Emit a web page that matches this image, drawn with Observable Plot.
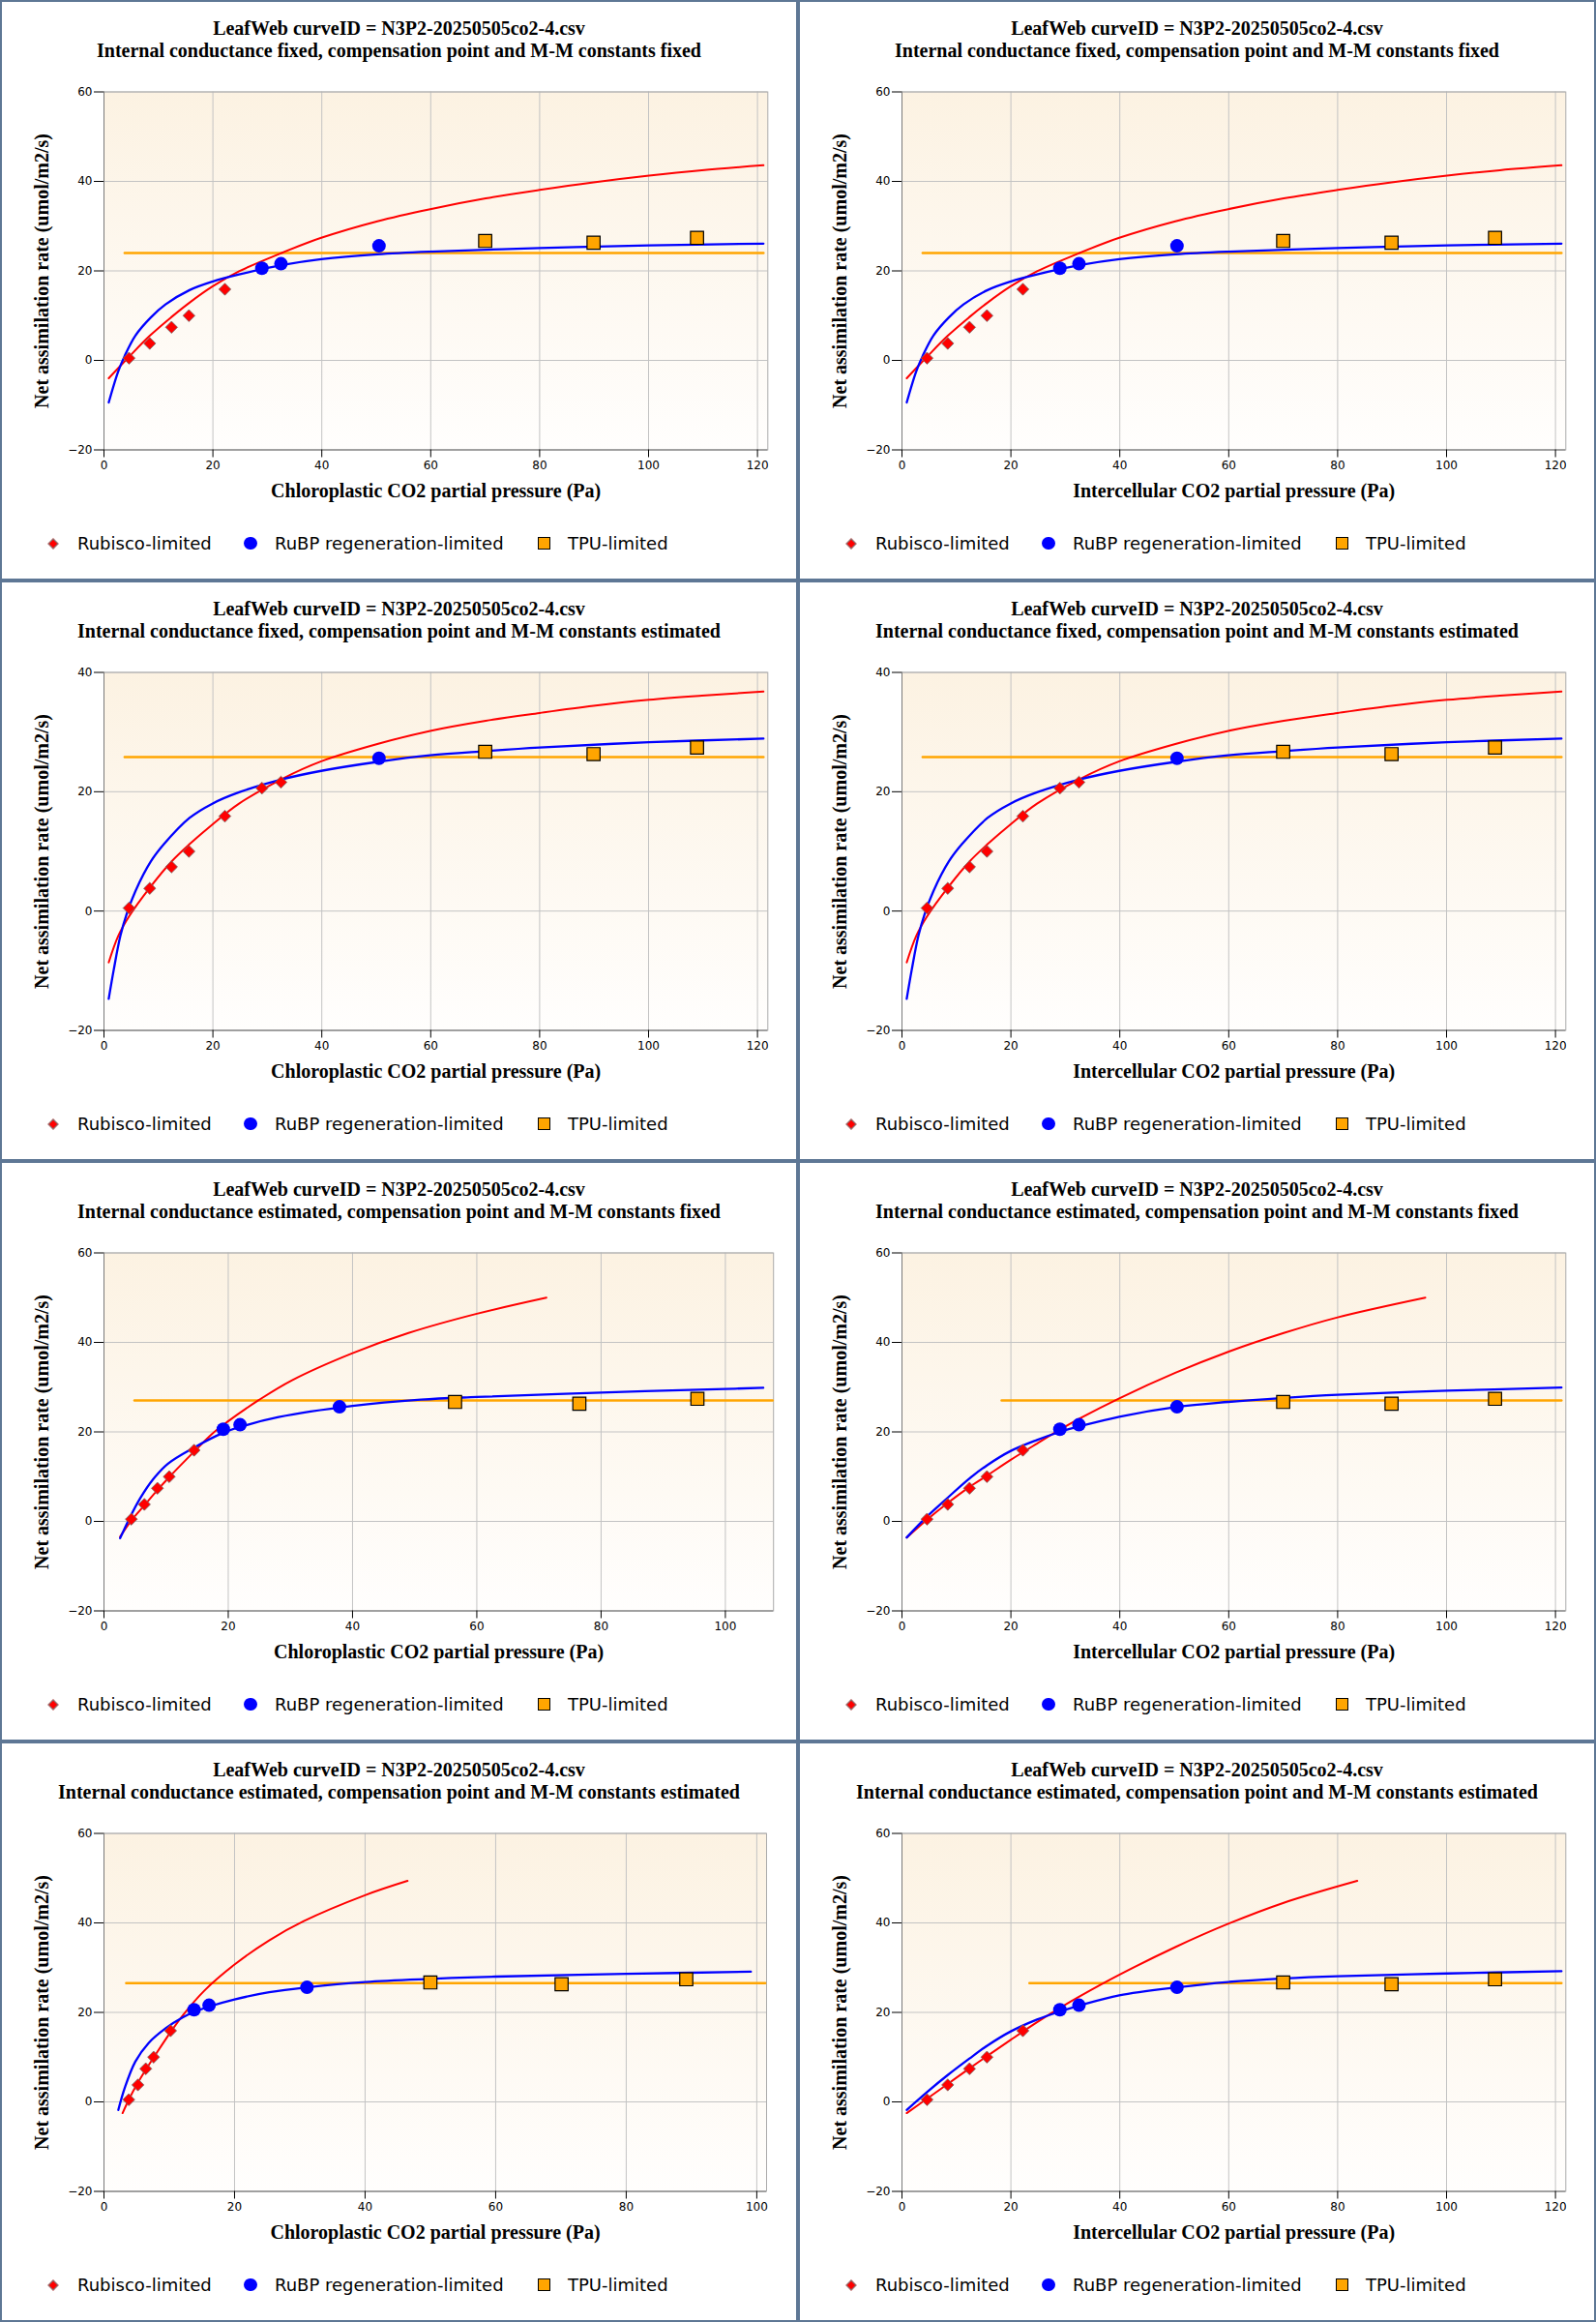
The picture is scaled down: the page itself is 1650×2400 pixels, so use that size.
<!DOCTYPE html>
<html><head><meta charset="utf-8">
<script src="https://cdn.jsdelivr.net/npm/d3@7"></script>
<script src="https://cdn.jsdelivr.net/npm/@observablehq/plot@0.6"></script>
<style>
html,body{margin:0;padding:0;background:#fff;}
#page{width:1650px;height:2400px;box-sizing:border-box;padding:2px;background:#5e7795;display:grid;grid-template-columns:821px 821px;grid-template-rows:repeat(4,596px);gap:4px;}
.panel{position:relative;background:#fff;overflow:hidden;}
.t{position:absolute;left:0;width:100%;text-align:center;font-weight:bold;font-size:20px;font-family:"Liberation Serif","Times New Roman",serif;line-height:20px;white-space:nowrap;color:#000;}
.plot{position:absolute;left:0;top:60px;}
.lg{position:absolute;top:549.8px;font-size:18px;font-family:"DejaVu Sans",sans-serif;line-height:20px;white-space:nowrap;color:#000;}
.sym{position:absolute;box-sizing:border-box;}
</style></head><body><div id="page"></div>
<script>
// ---- text ----
const titleLine1 = "LeafWeb curveID = N3P2-20250505co2-4.csv";
const titleLines2 = [
  "Internal conductance fixed, compensation point and M-M constants fixed",
  "Internal conductance fixed, compensation point and M-M constants estimated",
  "Internal conductance estimated, compensation point and M-M constants fixed",
  "Internal conductance estimated, compensation point and M-M constants estimated"
];
const xLabels = ["Chloroplastic CO2 partial pressure (Pa)", "Intercellular CO2 partial pressure (Pa)"];
const yLabel = "Net assimilation rate (umol/m2/s)";
const legendLabels = ["Rubisco-limited", "RuBP regeneration-limited", "TPU-limited"];

// ---- tick values ----
const xTicks120 = [0, 20, 40, 60, 80, 100, 120];
const xTicks100 = [0, 20, 40, 60, 80, 100];
const yTicks60 = [-20, 0, 20, 40, 60];
const yTicks40 = [-20, 0, 20, 40];

// ---- observations ----
const obsA  = [0.5, 3.8, 7.4, 10.0, 15.9, 20.6, 21.6, 25.6, 26.7, 26.3, 27.4];
const obsCi = [4.6, 8.4, 12.4, 15.6, 22.2, 29.0, 32.5, 50.5, 70.0, 89.9, 108.9];
const ccGmEstCpFixed = [4.4, 6.5, 8.6, 10.5, 14.5, 19.2, 21.9, 37.9, 56.5, 76.5, 95.5];
const ccGmEstCpEst   = [3.8, 5.2, 6.4, 7.6, 10.2, 13.8, 16.1, 31.1, 50.0, 70.1, 89.2];
const limitsCpFixed = ["R","R","R","R","R","J","J","J","T","T","T"];
const limitsCpEst   = ["R","R","R","R","R","R","R","J","T","T","T"];

// ---- fitted curves ----
const red1 = [[0.87,-4.0],[4.6,0.8],[8.4,5.5],[12.4,9.7],[15.7,12.9],[19.9,16.5],[24.8,19.9],[32.8,24.1],[39.9,27.4],[50.2,31.1],[59.9,33.8],[70.1,36.2],[80,38.1],[89.9,39.8],[100.1,41.3],[109.8,42.5],[121.1,43.6]];
const blue1 = [[0.87,-9.4],[2.6,-2.5],[3.8,1.0],[5.8,5.6],[8.6,9.6],[11.3,12.5],[15.7,15.7],[19.9,17.6],[24.8,19.2],[32.8,21.3],[39.9,22.6],[50.2,23.7],[59.9,24.3],[80,25.1],[100.1,25.7],[121.1,26.1]];
const tpu1 = [[3.8,24.0],[121.1,24.0]];

const red3 = [[0.87,-8.6],[2.6,-4.2],[4.6,-0.9],[8.4,3.9],[12.4,8.3],[15.7,11.2],[19.9,14.5],[24.8,18.0],[32.8,22.2],[39.9,25.1],[50.2,28.0],[59.9,30.2],[70.1,31.9],[80,33.2],[89.9,34.4],[100.1,35.4],[109.8,36.1],[121.1,36.8]];
const blue3 = [[0.87,-14.7],[1.8,-9.8],[3.0,-4.2],[4.2,-0.4],[5.8,3.4],[8.6,8.3],[11.0,11.2],[15.7,15.6],[19.9,18.0],[24.8,19.9],[32.8,22.1],[39.9,23.5],[50.2,25.0],[59.9,26.1],[70.1,26.8],[80,27.4],[100.1,28.3],[121.1,28.9]];
const tpu3 = [[3.8,25.8],[121.1,25.8]];

const red5 = [[2.6,-3.4],[4.4,0.2],[6.5,3.6],[8.6,7.0],[10.5,9.9],[14.5,15.6],[17.5,19.7],[19.9,22.3],[24.9,27.1],[30.2,31.5],[40,37.6],[49,42.1],[60,46.4],[71.2,50.0]];
const blue5 = [[2.6,-3.75],[4.0,0.4],[5.8,5.1],[7.9,9.4],[10.3,12.9],[14.5,16.5],[19.2,19.8],[21.9,21.1],[28.1,23.3],[40,25.8],[51,27.2],[60,27.8],[80,28.8],[100,29.6],[106.1,29.85]];
const tpu5 = [[4.9,27.05],[107.6,27.05]];

const red6 = [[0.87,-3.6],[4.6,0.4],[8.4,4.1],[12.4,7.7],[15.7,10.3],[19.9,13.7],[24.8,17.4],[29,20.5],[32.8,23.1],[39.9,27.5],[50.2,33.2],[59.9,37.9],[70.1,42.1],[80,45.6],[96.1,50.0]];
const blue6 = [[0.87,-3.6],[4.6,1.1],[8.4,5.3],[12.4,9.6],[15.7,12.6],[19.9,15.7],[24.8,18.2],[29,20.0],[32.8,21.3],[39.9,23.4],[50.5,25.6],[59.9,26.7],[70.1,27.6],[80,28.3],[100.1,29.2],[121.1,29.9]];
const tpu6 = [[18.3,27.05],[121.1,27.05]];

const red7 = [[2.85,-2.5],[3.8,0.5],[5.2,4.3],[6.4,7.2],[7.6,9.9],[10.2,15.6],[12.1,19.4],[15.4,24.9],[20,30.7],[25.3,36.1],[30.6,40.4],[40,46.2],[46.5,49.4]];
const blue7 = [[2.2,-1.8],[3.2,3.2],[4.8,9.0],[6.8,13.1],[9.5,16.5],[12.1,18.9],[13.8,20.1],[16.1,21.3],[20,22.9],[25.3,24.5],[31.1,25.6],[40,26.8],[50,27.5],[60,28.0],[80,28.6],[99.1,29.1]];
const tpu7 = [[3.4,26.55],[101.3,26.55]];

const red8 = [[0.87,-2.5],[4.6,0.7],[8.4,4.0],[12.4,7.5],[15.7,10.3],[19.9,13.8],[24.8,17.8],[29,21.0],[32.8,23.7],[39.9,28.4],[50.2,34.6],[59.9,39.8],[70.1,44.5],[83.6,49.4]];
const blue8 = [[0.87,-1.8],[4.6,2.2],[8.4,6.0],[12.4,9.7],[15.7,12.6],[19.9,15.7],[24.8,18.4],[29,20.2],[32.8,21.6],[39.9,23.8],[50.5,25.6],[59.9,26.8],[70.1,27.6],[80,28.1],[100.1,28.7],[121.1,29.2]];
const tpu8 = [[23.4,26.55],[121.1,26.55]];

const panels = [
  {row:0, xl:0, xs:obsCi, lims:limitsCpFixed, red:red1, blue:blue1, tpu:tpu1, xmax:121.9, mr:29.7, xt:xTicks120, yt:yTicks60, ymax:60},
  {row:0, xl:1, xs:obsCi, lims:limitsCpFixed, red:red1, blue:blue1, tpu:tpu1, xmax:121.9, mr:29.7, xt:xTicks120, yt:yTicks60, ymax:60},
  {row:1, xl:0, xs:obsCi, lims:limitsCpEst, red:red3, blue:blue3, tpu:tpu3, xmax:121.9, mr:29.7, xt:xTicks120, yt:yTicks40, ymax:40},
  {row:1, xl:1, xs:obsCi, lims:limitsCpEst, red:red3, blue:blue3, tpu:tpu3, xmax:121.9, mr:29.7, xt:xTicks120, yt:yTicks40, ymax:40},
  {row:2, xl:0, xs:ccGmEstCpFixed, lims:limitsCpFixed, red:red5, blue:blue5, tpu:tpu5, xmax:107.75, mr:23.8, xt:xTicks100, yt:yTicks60, ymax:60},
  {row:2, xl:1, xs:obsCi, lims:limitsCpFixed, red:red6, blue:blue6, tpu:tpu6, xmax:121.9, mr:29.7, xt:xTicks120, yt:yTicks60, ymax:60},
  {row:3, xl:0, xs:ccGmEstCpEst, lims:limitsCpFixed, red:red7, blue:blue7, tpu:tpu7, xmax:101.5, mr:31, xt:xTicks100, yt:yTicks60, ymax:60},
  {row:3, xl:1, xs:obsCi, lims:limitsCpFixed, red:red8, blue:blue8, tpu:tpu8, xmax:121.9, mr:29.7, xt:xTicks120, yt:yTicks60, ymax:60}
];

const page = document.getElementById("page");
const serif = "Liberation Serif, Times New Roman, serif";
const NS = "http://www.w3.org/2000/svg";

panels.forEach((p, k) => {
  const div = document.createElement("div");
  div.className = "panel";
  page.appendChild(div);

  const t1 = document.createElement("div");
  t1.className = "t"; t1.style.top = "17.25px"; t1.textContent = titleLine1;
  const t2 = document.createElement("div");
  t2.className = "t"; t2.style.top = "39.75px"; t2.textContent = titleLines2[p.row];
  div.appendChild(t1); div.appendChild(t2);

  const pts = p.xs.map((x, i) => ({x, a: obsA[i], lim: p.lims[i]}));
  const gid = "bg" + k;
  const px = d => d[0], py = d => d[1];

  const svg = Plot.plot({
    width: 821, height: 470,
    marginLeft: 105, marginRight: p.mr, marginTop: 32.5, marginBottom: 67.5,
    x: {domain: [0, p.xmax]},
    y: {domain: [-20, p.ymax]},
    style: {fontFamily: "DejaVu Sans, sans-serif", fontSize: "12px", background: "transparent", overflow: "visible", color: "#000"},
    marks: [
      Plot.frame({fill: `url(#${gid})`, stroke: null}),
      Plot.gridX(p.xt, {stroke: "#c3c3c3", strokeOpacity: 1}),
      Plot.gridY(p.yt, {stroke: "#c3c3c3", strokeOpacity: 1}),
      Plot.frame({stroke: "#ababab"}),
      Plot.ruleX([0], {stroke: "#7a7a7a"}),
      Plot.ruleY([-20], {stroke: "#7a7a7a"}),
      Plot.axisX({ticks: p.xt, tickSize: 8, tickPadding: 3, label: null, stroke: "#000"}),
      Plot.axisY({ticks: p.yt, tickSize: 10, tickPadding: 2, label: null, stroke: "#000"}),
      Plot.line(p.tpu, {x: px, y: py, stroke: "#ffa500", strokeWidth: 2.5}),
      Plot.line(p.red, {x: px, y: py, stroke: "#ff0000", strokeWidth: 2, curve: "catmull-rom"}),
      Plot.line(p.blue, {x: px, y: py, stroke: "#0000ff", strokeWidth: 2.3, curve: "catmull-rom"}),
      Plot.dot(pts.filter(d => d.lim === "R"), {x: "x", y: "a", symbol: "diamond2", r: 5.6, fill: "#ff0000", stroke: "#707070", strokeWidth: 0.8}),
      Plot.dot(pts.filter(d => d.lim === "J"), {x: "x", y: "a", symbol: "circle", r: 7, fill: "#0000ff", stroke: null}),
      Plot.dot(pts.filter(d => d.lim === "T"), {x: "x", y: "a", symbol: "square", r: 7.6, fill: "#ffa500", stroke: "#000", strokeWidth: 1.2}),
      Plot.text([xLabels[p.xl]], {text: d => d, frameAnchor: "bottom", textAnchor: "middle", lineAnchor: "middle", dy: 43, fontSize: 20, fontWeight: "bold", fontFamily: serif, fill: "#000"}),
      Plot.text([yLabel], {text: d => d, frameAnchor: "left", textAnchor: "middle", lineAnchor: "middle", rotate: -90, dx: -64, fontSize: 20, fontWeight: "bold", fontFamily: serif, fill: "#000"})
    ]
  });
  const defs = document.createElementNS(NS, "defs");
  const lg = document.createElementNS(NS, "linearGradient");
  lg.setAttribute("id", gid);
  lg.setAttribute("x1", "0"); lg.setAttribute("y1", "0"); lg.setAttribute("x2", "0"); lg.setAttribute("y2", "1");
  [["0", "#fcf2e2"], ["1", "#fffefd"]].forEach(([o, c]) => {
    const s = document.createElementNS(NS, "stop");
    s.setAttribute("offset", o); s.setAttribute("stop-color", c);
    lg.appendChild(s);
  });
  defs.appendChild(lg);
  svg.insertBefore(defs, svg.firstChild);
  svg.classList.add("plot");
  svg.style.position = "absolute"; svg.style.left = "0px"; svg.style.top = "60px";
  div.appendChild(svg);

  // legend
  const mk = (css) => { const e = document.createElement("div"); e.className = "sym"; Object.assign(e.style, css); div.appendChild(e); };
  mk({left: "49px", top: "555.7px", width: "8px", height: "8px", background: "#ff0000", border: "1px solid #808080", transform: "rotate(45deg)"});
  mk({left: "250.25px", top: "552.95px", width: "13.5px", height: "13.5px", background: "#0000ff", borderRadius: "50%"});
  mk({left: "553.5px", top: "552.9px", width: "13px", height: "13px", background: "#ffa500", border: "1px solid #000"});
  [78, 282, 585].forEach((x, i) => {
    const e = document.createElement("div");
    e.className = "lg"; e.style.left = x + "px"; e.textContent = legendLabels[i];
    div.appendChild(e);
  });
});
</script></body></html>
